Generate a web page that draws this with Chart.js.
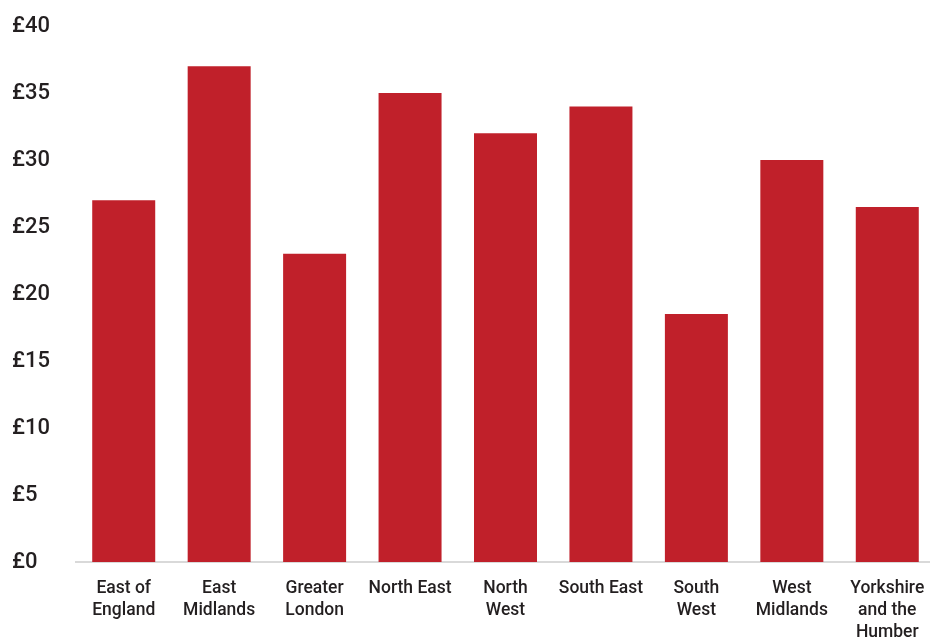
<!DOCTYPE html>
<html>
<head>
<meta charset="utf-8">
<script src="https://cdn.jsdelivr.net/npm/chart.js@4"></script>
<style>
  html, body { margin: 0; padding: 0; background: #fff; overflow: hidden; }
  #wrap { width: 935px; height: 641px; }
</style>
</head>
<body>
<div id="wrap"><canvas id="regionChart"></canvas></div>
<script>
// regions along the bottom
const regions = [
  ["East of", "England"],
  ["East", "Midlands"],
  ["Greater", "London"],
  "North East",
  ["North", "West"],
  "South East",
  ["South", "West"],
  ["West", "Midlands"],
  ["Yorkshire", "and the", "Humber"]
];

// values in £
const amounts = [27, 37, 23, 35, 32, 34, 18.5, 30, 26.5];

const yMax = 40;
const yStep = 5;

const barColour = "#C0202A";
const textColour = "#231f20";
const fontFamily = "Roboto, 'DejaVu Sans', sans-serif";

new Chart(document.getElementById("regionChart"), {
  type: "bar",
  data: {
    labels: regions,
    datasets: [{
      data: amounts,
      backgroundColor: barColour,
      borderWidth: 0,
      categoryPercentage: 1,
      barPercentage: 0.66
    }]
  },
  options: {
    responsive: true,
    maintainAspectRatio: false,
    animation: false,
    layout: { padding: { top: 26, right: 0, left: 12, bottom: 0 } },
    plugins: {
      legend: { display: false },
      tooltip: { enabled: false }
    },
    scales: {
      x: {
        grid: { display: false },
        border: { display: true, color: "#d9d9d9", width: 2 },
        ticks: {
          color: textColour,
          font: { family: fontFamily, size: 17.5, weight: 500, lineHeight: 1.25 },
          maxRotation: 0,
          autoSkip: false,
          padding: 8
        },
        afterFit: (scale) => { scale.height = 79; }
      },
      y: {
        min: 0,
        max: yMax,
        grid: { display: false },
        border: { display: false },
        ticks: {
          stepSize: yStep,
          color: textColour,
          font: { family: fontFamily, size: 22, weight: 500 },
          crossAlign: "far",
          padding: 10,
          callback: (v) => "£" + v
        },
        afterFit: (scale) => { scale.width = 64; }
      }
    }
  }
});
</script>
</body>
</html>
